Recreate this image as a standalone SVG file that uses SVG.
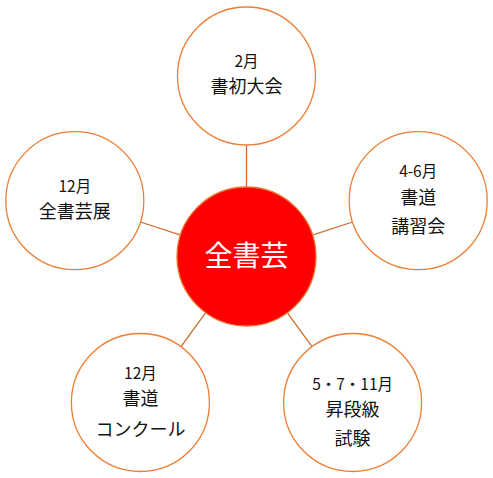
<svg xmlns="http://www.w3.org/2000/svg" width="493" height="478" viewBox="0 0 493 478">
<style>
.outer{fill:#FFFFFF;stroke:#ED7D31;stroke-width:1.3}
.hub{fill:#FF0000;stroke:#E8772E;stroke-width:1.3}
.conn line{stroke:#CC6E2E;stroke-width:1.3}
text{font-family:"Noto Sans CJK JP","Noto Sans",sans-serif;text-anchor:middle;fill:#111111}
.m{font-size:15.5px}
.t{font-size:18px}
.c{font-size:28px;fill:#FFFFFF}
</style>
<rect width="493" height="478" fill="#FFFFFF"/>
<g id="connectors" class="conn">
<line x1="246.5" y1="186.5" x2="246.5" y2="145"/>
<line x1="313.1" y1="234.9" x2="352.5" y2="222.0"/>
<line x1="179.9" y1="234.9" x2="140.5" y2="222.0"/>
<line x1="287.6" y1="313.1" x2="312.0" y2="346.7"/>
<line x1="205.4" y1="313.1" x2="181.0" y2="346.7"/>
</g>
<g id="center">
<circle class="hub" cx="246.5" cy="256.5" r="69.5"/>
<text class="c" x="246.5" y="265.5">全書芸</text>
</g>
<g id="node-top">
<circle class="outer" cx="246.5" cy="76" r="69"/>
<text class="m" x="246.5" y="66.5">2月</text>
<text class="t" x="246.5" y="93">書初大会</text>
</g>
<g id="node-right">
<circle class="outer" cx="418.2" cy="200.7" r="69"/>
<text class="m" x="418.2" y="177">4-6月</text>
<text class="t" x="418.2" y="204">書道</text>
<text class="t" x="418.2" y="233">講習会</text>
</g>
<g id="node-left">
<circle class="outer" cx="74.8" cy="200.7" r="69"/>
<text class="m" x="74.8" y="192">12月</text>
<text class="t" x="74.8" y="218">全書芸展</text>
</g>
<g id="node-bottom-left">
<circle class="outer" cx="140.4" cy="402.5" r="69"/>
<text class="m" x="140.4" y="379">12月</text>
<text class="t" x="140.4" y="405">書道</text>
<text class="t" x="140.4" y="435.5">コンクール</text>
</g>
<g id="node-bottom-right">
<circle class="outer" cx="352.6" cy="402.5" r="69"/>
<text class="m" x="352.6" y="390">5・7・11月</text>
<text class="t" x="352.6" y="415.5">昇段級</text>
<text class="t" x="352.6" y="445">試験</text>
</g>
</svg>
